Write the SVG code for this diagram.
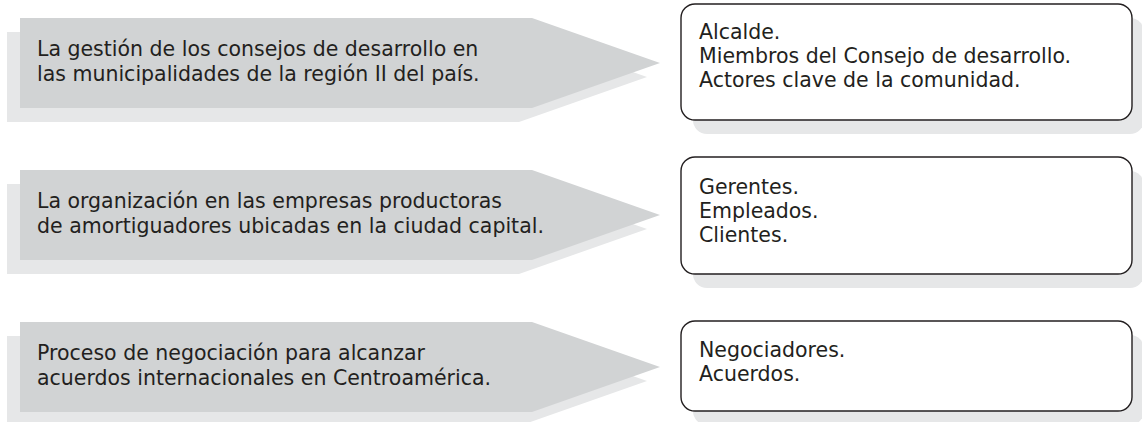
<svg xmlns="http://www.w3.org/2000/svg" width="1142" height="422" viewBox="0 0 1142 422">
<style>
.bg{fill:#ffffff}
.arrow{fill:#d1d3d4}
.shadow{fill:#e6e7e8}
.box{fill:#ffffff;stroke:#231f20;stroke-width:1.4}
text{font-family:"DejaVu Sans","Open Sans",sans-serif;font-size:20.5px;fill:#231f20}
</style>
<defs>
<polygon id="arrowShape" points="0,0 512,0 640,45 512,90 0,90"/>
</defs>
<rect class="bg" x="0" y="0" width="1142" height="422"/>
<g id="connectors"></g>
<g id="topic1">
<use href="#arrowShape" class="shadow" transform="translate(7,32)"/>
<use href="#arrowShape" class="arrow" transform="translate(20,18)"/>
<text x="37" y="56">La gestión de los consejos de desarrollo en<tspan x="37" dy="25">las municipalidades de la región II del país.</tspan></text>
</g>
<g id="actors1">
<rect class="shadow" x="693" y="18" width="451" height="116" rx="14" ry="14"/>
<rect class="box" x="681" y="4" width="451" height="116" rx="14" ry="14"/>
<text x="699" y="39">Alcalde.<tspan x="699" dy="24">Miembros del Consejo de desarrollo.</tspan><tspan x="699" dy="24">Actores clave de la comunidad.</tspan></text>
</g>
<g id="topic2">
<use href="#arrowShape" class="shadow" transform="translate(7,184)"/>
<use href="#arrowShape" class="arrow" transform="translate(20,170)"/>
<text x="37" y="208">La organización en las empresas productoras<tspan x="37" dy="25">de amortiguadores ubicadas en la ciudad capital.</tspan></text>
</g>
<g id="actors2">
<rect class="shadow" x="693" y="171" width="451" height="117" rx="14" ry="14"/>
<rect class="box" x="681" y="157" width="451" height="117" rx="14" ry="14"/>
<text x="699" y="194">Gerentes.<tspan x="699" dy="24">Empleados.</tspan><tspan x="699" dy="24">Clientes.</tspan></text>
</g>
<g id="topic3">
<use href="#arrowShape" class="shadow" transform="translate(7,336)"/>
<use href="#arrowShape" class="arrow" transform="translate(20,322)"/>
<text x="37" y="360">Proceso de negociación para alcanzar<tspan x="37" dy="25">acuerdos internacionales en Centroamérica.</tspan></text>
</g>
<g id="actors3">
<rect class="shadow" x="693" y="335" width="451" height="90" rx="14" ry="14"/>
<rect class="box" x="681" y="321" width="451" height="90" rx="14" ry="14"/>
<text x="699" y="357">Negociadores.<tspan x="699" dy="24">Acuerdos.</tspan></text>
</g>
</svg>
